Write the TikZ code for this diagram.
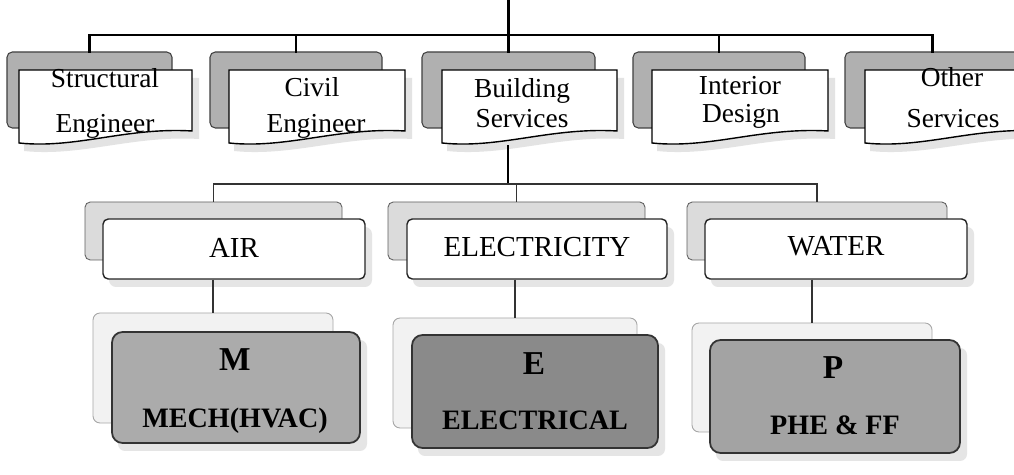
\documentclass[tikz,border=0pt]{standalone}
\usepackage{fontspec}
\setmainfont{Liberation Serif}
\usetikzlibrary{fit,calc}
\tikzset{
  topline/.style={line width=1.3pt, black, line cap=rect},
  subline/.style={line width=0.6pt, black!80},
  topshadow/.style={draw=black!75, fill=gray!62, rounded corners=3pt, inner sep=0pt, line width=0.6pt},
  topbox/.style={draw=black, line width=0.8pt, fill=white},
  lvshadow/.style={draw=gray!75!black, fill=gray!28, rounded corners=3pt, inner sep=0pt, line width=0.5pt},
  lvbox/.style={draw=black!85, line width=0.8pt, fill=white, rounded corners=3pt, inner sep=0pt},
  bshadow/.style={draw=gray!70, fill=gray!10, rounded corners=4pt, inner sep=0pt, line width=0.5pt},
  mbox/.style={draw=black!80, line width=1pt, fill=#1, rounded corners=6pt, inner sep=0pt},
  soft/.style={fill=gray!20, rounded corners=4pt, inner sep=0pt},
  toptext/.style={font=\fontsize{15.6}{18}\selectfont, anchor=base, inner sep=0pt},
  midtext/.style={font=\fontsize{16.5}{20}\selectfont, anchor=base, inner sep=0pt},
  bottext/.style={font=\bfseries\fontsize{16}{19}\selectfont, anchor=base, inner sep=0pt},
  bigletter/.style={font=\bfseries\fontsize{19}{22}\selectfont, anchor=base, inner sep=0pt},
}
\newcommand\wavecard[2]{%
  \pgfmathsetmacro\wA{#1+0.62*(#2-#1)}%
  \pgfmathsetmacro\wB{#1+0.33*(#2-#1)}%
  \fill[gray!22] (#1+5,78) -- (#2+7,78) -- (#2+7,139) .. controls (\wA+7,135) and (\wB+5,157) .. (#1+5,151) -- cycle;
  \draw[topbox] (#1,70) -- (#2,70) -- (#2,131) .. controls (\wA,127) and (\wB,149) .. (#1,143) -- cycle;
}
\begin{document}
\begin{tikzpicture}[x=0.02cm,y=-0.02cm]
\useasboundingbox (0,0) rectangle (1014,475);
\clip (0,0) rectangle (1014,475);
\fill[white] (0,0) rectangle (1014,475);

% ---------- top level ----------
\node[topshadow, fit={(7,52) (172,128)}] (s1) {};
\node[topshadow, fit={(210,52) (382,128)}] (s2) {};
\node[topshadow, fit={(422,52) (595,128)}] (s3) {};
\node[topshadow, fit={(633,52) (805,128)}] (s4) {};
\node[topshadow, fit={(845,52) (1020,128)}] (s5) {};

\wavecard{19}{192}
\wavecard{229}{405}
\wavecard{442}{617}
\wavecard{652}{828}
\wavecard{865}{1040}

\node[toptext] (t1a) at (105,88) {Structural};
\node[toptext] (t1b) at (105,133) {Engineer};
\node[toptext] (t2a) at (312,97) {Civil};
\node[toptext] (t2b) at (316,133) {Engineer};
\node[toptext] (t3a) at (522,98) {Building};
\node[toptext] (t3b) at (522,128) {Services};
\node[toptext] (t4a) at (740,95) {Interior};
\node[toptext] (t4b) at (741,123) {Design};
\node[toptext] (t5a) at (952,87) {Other};
\node[toptext] (t5b) at (953,128) {Services};

\coordinate (root) at (507,0);
\coordinate (j0) at (s3.north |- 0,35);
\draw[topline] (root -| s3.north) -- (j0);
\draw[topline] (j0) -| (s1.north);
\draw[topline] (j0) -| (s2.north);
\draw[topline] (j0) -- (s3.north);
\draw[topline] (j0) -| (s4.north);
\draw[topline] (j0) -| (s5.north);

% ---------- second level ----------
\node[lvshadow, fit={(85,202) (342,260)}] (a0) {};
\node[lvshadow, fit={(388,202) (645,260)}] (e0) {};
\node[lvshadow, fit={(687,202) (947,260)}] (w0) {};
\node[soft, fit={(109,227) (372,287)}] {};
\node[soft, fit={(413,227) (674,287)}] {};
\node[soft, fit={(711,227) (974,287)}] {};
\node[lvbox, fit={(103,219) (365,279)}] (a1) {};
\node[lvbox, fit={(407,219) (667,279)}] (e1) {};
\node[lvbox, fit={(705,219) (967,279)}] (w1) {};
\node[midtext] (ta) at (234,258) {AIR};
\node[midtext] (te) at (537,257) {ELECTRICITY};
\node[midtext] (tw) at (836,256) {WATER};

\coordinate (bsb) at (508,146);
\coordinate (j1) at (bsb |- 0,184);
\draw[topline, line width=1.1pt] (bsb) -- (j1);
\draw[subline] (j1) -| (a0.north);
\draw[subline] (j1) -| (e0.north);
\draw[subline] (j1) -| (w0.north);

% ---------- third level ----------
\node[bshadow, fit={(93,313) (333,423)}] (m0) {};
\node[bshadow, fit={(393,318) (637,428)}] (x0) {};
\node[bshadow, fit={(692,323) (932,432)}] (p0) {};
\node[soft, fit={(118,340) (367,451)}] {};
\node[soft, fit={(418,343) (665,456)}] {};
\node[soft, fit={(716,348) (967,461)}] {};
\node[mbox=black!33, fit={(112,332) (360,443)}] (m1) {};
\node[mbox=black!46, fit={(412,335) (658,448)}] (x1) {};
\node[mbox=black!36, fit={(710,340) (960,453)}] (p1) {};

\node[bigletter] (tm) at (235,371) {M};
\node[bottext] (tm2) at (235,428) {MECH(HVAC)};
\node[bigletter] (tx) at (534,375) {E};
\node[bottext] (tx2) at (535,430) {ELECTRICAL};
\node[bigletter] (tp) at (833,379) {P};
\node[bottext] (tp2) at (835,435) {PHE \& FF};

\draw[subline] (a1.south -| m0.north) -- (m0.north);
\draw[subline] (e1.south -| x0.north) -- (x0.north);
\draw[subline] (w1.south -| p0.north) -- (p0.north);
\end{tikzpicture}
\end{document}
